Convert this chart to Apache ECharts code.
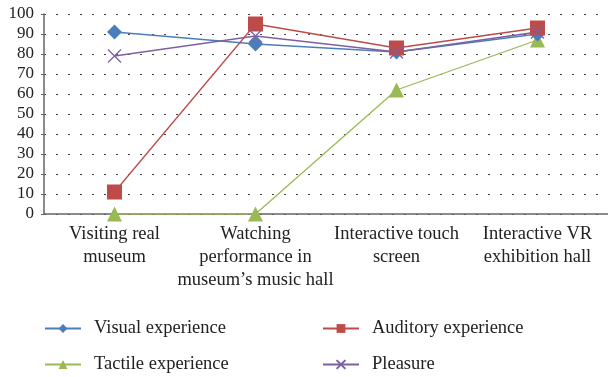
<!DOCTYPE html>
<html><head><meta charset="utf-8">
<script src="https://cdn.jsdelivr.net/npm/echarts@6/dist/echarts.min.js"></script>
<style>html,body{margin:0;padding:0;background:#fff}#c{width:608px;height:377px}</style>
</head><body><div id="c"></div>
<script>
const categories = ['Visiting real\nmuseum', 'Watching\nperformance in\nmuseum\u2019s music hall', 'Interactive touch\nscreen', 'Interactive VR\nexhibition hall'];
const visual = [91, 85, 81, 90];
const auditory = [11, 95, 83, 93];
const tactile = [0, 0, 62, 87];
const pleasure = [79, 89, 81, 91];
const yTicks = [0, 10, 20, 30, 40, 50, 60, 70, 80, 90, 100];

const font = 'Liberation Serif';
const chart = echarts.init(document.getElementById('c'), null, {renderer: 'canvas'});
function mk(name, data, color, symbol, size, extra) {
  return Object.assign({
    name, type: 'line', data, symbol, symbolSize: size,
    lineStyle: {color, width: 1.3}, itemStyle: {color},
    emphasis: {disabled: true}
  }, extra || {});
}
function leg(name, left, top) {
  return {
    data: [name], left, top, padding: 0, itemWidth: 36, itemHeight: 11,
    textStyle: {fontFamily: font, fontSize: 18.5, color: '#222', padding: [0, 0, 0, 8]}
  };
}
chart.setOption({
  animation: false,
  grid: {left: 44, right: -4, top: 14, bottom: 163, containLabel: false},
  legend: [
    leg('Visual experience', 44, 319),
    leg('Auditory experience', 322, 319),
    leg('Tactile experience', 44, 355),
    leg('Pleasure', 322, 355)
  ],
  xAxis: {
    type: 'category', data: categories, boundaryGap: true,
    axisLine: {lineStyle: {color: '#666', width: 1.5}},
    axisTick: {show: false},
    axisLabel: {fontFamily: font, fontSize: 18.5, color: '#222', lineHeight: 23, margin: 9, interval: 0}
  },
  yAxis: {
    type: 'value', min: 0, max: 100, interval: 10,
    axisLine: {show: true, lineStyle: {color: '#666', width: 1.5}},
    axisTick: {show: true, length: 3, lineStyle: {color: '#666'}},
    axisLabel: {fontFamily: font, fontSize: 17, color: '#222', margin: 10,
      formatter: v => yTicks.includes(v) ? String(v) : ''},
    splitLine: {show: true, lineStyle: {color: '#444', width: 1.2, type: [2, 10]}}
  },
  series: [
    mk('Visual experience', visual, '#4a7ebb', 'diamond', 15),
    mk('Auditory experience', auditory, '#be4b48', 'rect', 15),
    mk('Tactile experience', tactile, '#98b954', 'triangle', 15, {z: 1}),
    mk('Pleasure', pleasure, '#7d60a0', 'path://M0,0 L10,10 M10,0 L0,10', 13,
       {itemStyle: {color: 'none', borderColor: '#7d60a0', borderWidth: 1.3}})
  ]
});
</script></body></html>
